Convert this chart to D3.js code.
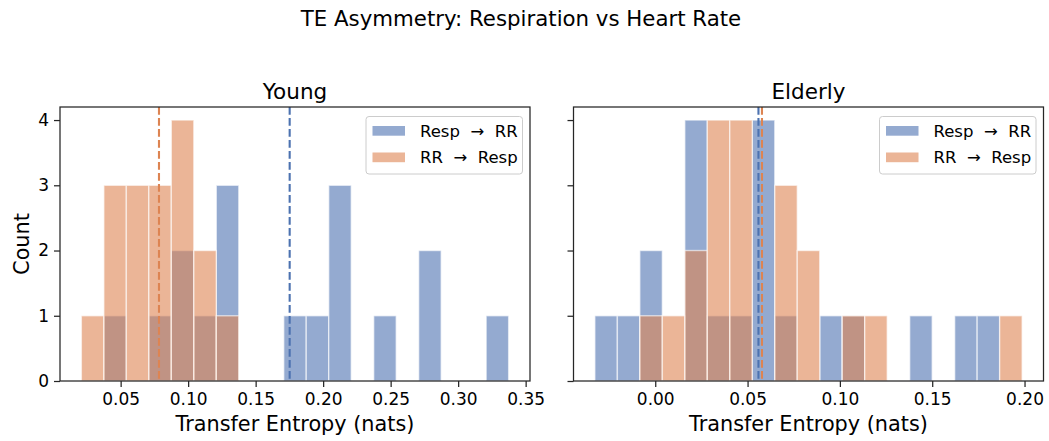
<!DOCTYPE html>
<html><head><meta charset="utf-8">
<script src="https://cdn.jsdelivr.net/npm/d3@7"></script>
<style>body{margin:0;background:#fff}svg{display:block;font-family:"DejaVu Sans",sans-serif}</style>
</head><body>
<svg id="chart" width="1049" height="441"></svg>
<script>
// ---- data ----
const seriesNames = ["Resp \u2192 RR", "RR \u2192 Resp"];
const panelTitles = ["Young", "Elderly"];
// histogram bin ranges (19 bins each)
const youngRange = [0.0209, 0.3374];
const elderlyRange = [-0.0327, 0.1987];
const youngRespToRR = [0,1,0,1,2,1,3,0,0,1,1,3,0,1,0,2,0,0,1];
const youngRRToResp = [1,3,3,3,4,2,1,0,0,0,0,0,0,0,0,0,0,0,0];
const elderlyRespToRR = [1,1,2,0,4,1,1,4,1,0,1,1,0,0,1,0,1,1,0];
const elderlyRRToResp = [0,0,1,1,2,4,4,0,3,2,0,1,1,0,0,0,0,0,1];
const youngMeans = [0.1752, 0.0784];
const elderlyMeans = [0.0559, 0.0578];
const youngTicks = [0.05,0.10,0.15,0.20,0.25,0.30,0.35];
const elderlyTicks = [0.00,0.05,0.10,0.15,0.20];
const yTicks = [0,1,2,3,4];

(function(){
const colors = ["#4C72B0", "#DD8452"];
const svg = d3.select("#chart");
const ink = "#262626";

svg.append("text").attr("x", 521).attr("y", 26).attr("text-anchor","middle")
  .attr("font-size", 21.3).attr("fill", "#000").text("TE Asymmetry: Respiration vs Heart Rate");

const axTop = 107, axBottom = 381, W = 470;
const y = d3.scaleLinear().domain([0, 4.2]).range([axBottom, axTop]);

const panels = [
  {left: 60, range: youngRange, series: [youngRespToRR, youngRRToResp], means: youngMeans, ticks: youngTicks, title: panelTitles[0], ylabels: true},
  {left: 573.5, range: elderlyRange, series: [elderlyRespToRR, elderlyRRToResp], means: elderlyMeans, ticks: elderlyTicks, title: panelTitles[1], ylabels: false}
];

panels.forEach(p => {
  const [lo, hi] = p.range;
  const R = hi - lo;
  const x = d3.scaleLinear().domain([lo - 0.05*R, hi + 0.05*R]).range([p.left, p.left + W]);
  const g = svg.append("g");
  const nb = p.series[0].length;
  const bw = R / nb;
  p.series.forEach((counts, si) => {
    g.selectAll(null).data(counts.map((c,i)=>({c, x0: lo + i*bw, x1: lo + (i+1)*bw})).filter(d=>d.c>0))
      .enter().append("rect")
      .attr("x", d => x(d.x0)).attr("width", d => x(d.x1) - x(d.x0))
      .attr("y", d => y(d.c)).attr("height", d => y(0) - y(d.c))
      .attr("fill", colors[si]).attr("fill-opacity", 0.6)
      .attr("stroke", "#fff").attr("stroke-opacity", 0.6).attr("stroke-width", 1.4);
  });
  p.means.forEach((m, si) => {
    g.append("line").attr("x1", x(m)).attr("x2", x(m)).attr("y1", axTop).attr("y2", axBottom)
      .attr("stroke", colors[si]).attr("stroke-width", 2.1).attr("stroke-dasharray", "7.7,3.3");
  });
  const xa = svg.append("g").attr("transform", `translate(0,${axBottom})`)
    .call(d3.axisBottom(x).tickValues(p.ticks).tickFormat(d3.format(".2f")).tickSize(6).tickPadding(5));
  const ya = svg.append("g").attr("transform", `translate(${p.left},0)`)
    .call(d3.axisLeft(y).tickValues(yTicks).tickFormat(p.ylabels ? d3.format("d") : () => "").tickSize(6).tickPadding(5));
  [xa, ya].forEach(a => {
    a.select(".domain").remove();
    a.selectAll("line").attr("stroke", ink).attr("stroke-width", 1.25);
    a.selectAll("text").attr("fill", "#000").attr("font-size", 17).attr("font-family", "DejaVu Sans");
  });
  xa.selectAll("text").attr("dy", "0.76em");
  svg.append("rect").attr("x", p.left).attr("y", axTop).attr("width", W).attr("height", axBottom - axTop)
    .attr("fill", "none").attr("stroke", ink).attr("stroke-width", 1.25);
  svg.append("text").attr("x", p.left + W/2).attr("y", 98.5).attr("text-anchor", "middle")
    .attr("font-size", 21.5).attr("fill", "#000").text(p.title);
  svg.append("text").attr("x", p.left + W/2).attr("y", 431).attr("text-anchor", "middle")
    .attr("font-size", 20.8).attr("fill", "#000").text("Transfer Entropy (nats)");
  const lx = p.left + W - 7.5 - 156.5, ly = axTop + 9.5;
  const lg = svg.append("g").attr("transform", `translate(${lx},${ly})`);
  lg.append("rect").attr("width", 156.5).attr("height", 57.5).attr("rx", 3)
    .attr("fill", "#fff").attr("fill-opacity", 0.8).attr("stroke", "#cccccc").attr("stroke-width", 1);
  seriesNames.forEach((name, i) => {
    lg.append("rect").attr("x", 6.5).attr("y", 9.5 + i*26.5).attr("width", 32.5).attr("height", 9.7)
      .attr("fill", colors[i]).attr("fill-opacity", 0.6);
    lg.append("text").attr("x", 54).attr("y", 14.5 + i*26.5).attr("dy", "0.35em")
      .attr("font-size", 16.5).attr("fill", "#000")
      .style("white-space","pre").text(name.replace(" \u2192 ", "  \u2192  "));
  });
});

svg.append("text").attr("transform", "translate(29,244) rotate(-90)").attr("text-anchor", "middle")
  .attr("font-size", 20.8).attr("fill", "#000").text("Count");
})();
</script>
</body></html>
